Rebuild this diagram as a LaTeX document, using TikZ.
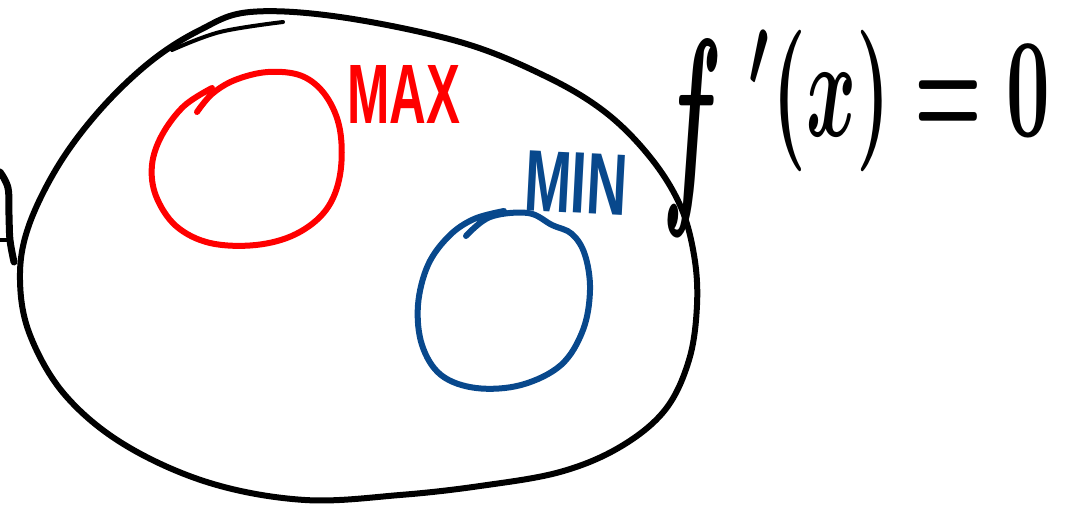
\documentclass[tikz,border=0pt]{standalone}
\usepackage{fontspec}
\setmainfont{Liberation Sans}
\usepackage{graphicx}
\definecolor{redink}{RGB}{255,0,0}
\definecolor{blueink}{RGB}{8,72,140}
\tikzset{
  ink/.style={line width=6pt, line cap=round, line join=round},
  thinink/.style={line width=4pt, line cap=round, line join=round},
  label/.style={inner sep=0pt, anchor=north west}
}
\begin{document}
\begin{tikzpicture}[x=1pt, y=-1pt]
\useasboundingbox (0,0) rectangle (1077,511);

% the closed domain
\draw[ink] plot[smooth cycle, tension=0.6] coordinates {
  (250,12) (340,17) (460,42) (545,76) (605,112) (650,157) (680,205)
  (694,255) (697,305) (689,360) (665,410) (620,447) (560,472) (480,486)
  (400,495) (305,500) (210,483) (125,445) (65,395) (30,335) (20,280)
  (28,228) (58,166) (100,110) (150,62) (200,30)};
% second stroke along the top
\draw[thinink] plot[smooth, tension=0.6] coordinates {(172,50) (220,32) (283,22)};

% stroke cut off at the left edge
\draw[ink, line width=7pt] plot[smooth, tension=0.6] coordinates {(0,172) (8,188) (9,215) (10,240) (14,262)};
\draw[thinink] (0,240) -- (10,240);

% maximum region
\draw[ink, redink] plot[smooth, tension=0.6] coordinates {
  (197,112) (212,94) (235,80) (268,72) (302,76) (326,96) (340,130)
  (340,175) (326,210) (296,234) (256,245) (210,243) (176,226) (156,196)
  (152,165) (162,135) (184,106) (212,88)};
\node[label, text=redink] (max) at (347,65) {\resizebox*{113pt}{58pt}{\bfseries MAX}};

% minimum region
\draw[ink, blueink] plot[smooth, tension=0.6] coordinates {
  (466,236) (490,217) (528,213) (552,225) (572,234) (585,255) (590,290)
  (583,330) (561,365) (521,385) (476,388) (441,375) (422,345) (418,305)
  (428,265) (449,236) (474,219) (504,211)};
\node[label, text=blueink, rotate=-3] (min) at (526,150) {\resizebox*{103pt}{60pt}{\bfseries MIN}};

% critical point condition
\node[label] (f) at (662,40) {\resizebox*{60pt}{196pt}{\boldmath$f$}};
\node[label] (cond) at (748,30) {\resizebox*{302pt}{142pt}{\boldmath$'(x)=0$}};
\end{tikzpicture}
\end{document}
